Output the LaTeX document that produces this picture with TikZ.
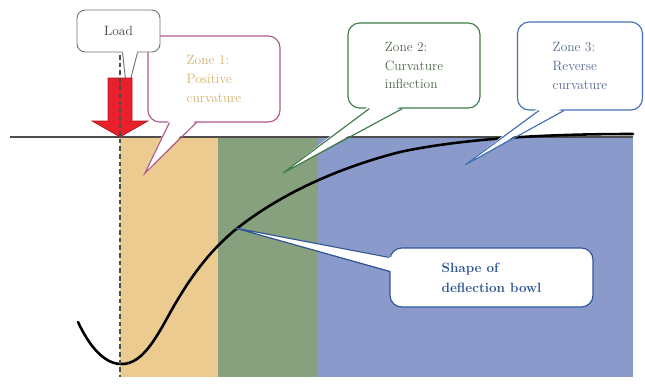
\documentclass[tikz,border=0pt]{standalone}
\usetikzlibrary{calc}
\definecolor{Sand}{HTML}{EBCB8F}
\definecolor{Sage}{HTML}{87A07E}
\definecolor{Periwinkle}{HTML}{8A9BCB}
\definecolor{Plum}{HTML}{B05A8E}
\definecolor{Forest}{HTML}{3F7D4A}
\definecolor{Cobalt}{HTML}{4472B4}
\definecolor{Deep}{HTML}{2F5597}
\definecolor{SandInk}{HTML}{D4B06A}
\definecolor{ForestInk}{HTML}{4E6548}
\definecolor{CobaltInk}{HTML}{56678F}
\definecolor{Signal}{HTML}{E8202A}
\tikzset{
  bubble/.style={draw=#1, fill=white, line width=1pt, rounded corners=10pt,
    align=left, inner sep=0pt, font=\fontsize{11.5}{16}\selectfont},
  tail/.style={draw=#1, line width=1pt, line join=miter},
}

\begin{document}
\begin{tikzpicture}[x=0.03cm,y=-0.03cm]
  \useasboundingbox (0,0) rectangle (645,384);
  % zones under the surface
  \fill[Sand] (120,137) rectangle (218,377);
  \fill[Sage] (218,137) rectangle (318,377);
  \fill[Periwinkle] (318,137) rectangle (633,377);
  \draw[line width=1.6pt, black!70] (10,137) -- (633,137);
  % deflection bowl
  \draw[line width=2.2pt, line cap=round] (78,322)
    .. controls (92,352) and (108,365) .. (123,364)
    .. controls (140,363) and (152,345) .. (165,322)
    .. controls (185,285) and (205,255) .. (235,230)
    .. controls (275,198) and (330,170) .. (400,152)
    .. controls (470,137) and (560,134) .. (633,134);

  % zone callouts
  \node[bubble=Plum, text=SandInk, minimum width=3.96cm, minimum height=2.58cm]
    (z1) at (214,79) {Zone 1:\\Positive\\curvature};
  \coordinate (z1tip) at (145,173);
  \fill[white] ($(z1.south west)+(22,-3)$) -- (z1tip) -- ($(z1.south west)+(49,-3)$) -- cycle;
  \draw[tail=Plum] ($(z1.south west)+(22,0)$) -- (z1tip) -- ($(z1.south west)+(49,0)$);

  \node[bubble=Forest, text=ForestInk, minimum width=3.96cm, minimum height=2.55cm]
    (z2) at (414,65.5) {Zone 2:\\Curvature\\inflection};
  \coordinate (z2tip) at (283,173);
  \fill[white] ($(z2.south west)+(22,-3)$) -- (z2tip) -- ($(z2.south west)+(55,-3)$) -- cycle;
  \draw[tail=Forest] ($(z2.south west)+(22,0)$) -- (z2tip) -- ($(z2.south west)+(55,0)$);

  \node[bubble=Cobalt, text=CobaltInk, minimum width=3.75cm, minimum height=2.64cm]
    (z3) at (580,66) {Zone 3:\\Reverse\\curvature};
  \coordinate (z3tip) at (465,165);
  \fill[white] ($(z3.south west)+(22,-3)$) -- (z3tip) -- ($(z3.south west)+(47,-3)$) -- cycle;
  \draw[tail=Cobalt] ($(z3.south west)+(22,0)$) -- (z3tip) -- ($(z3.south west)+(47,0)$);

  \node[bubble=Deep, text=Deep, font=\fontsize{11.5}{17}\selectfont\bfseries,
    minimum width=6.09cm, minimum height=1.77cm] (bowl) at (491.5,277.5)
    {Shape of\\deflection bowl};
  \coordinate (bowltip) at (235,228);
  \fill[white] ($(bowl.north west)+(3,10)$) -- (bowltip) -- ($(bowl.north west)+(3,24)$) -- cycle;
  \draw[tail=Deep] ($(bowl.north west)+(0,10)$) -- (bowltip) -- ($(bowl.north west)+(0,24)$);

  % load
  \node[bubble=black!55, text=black!75, line width=0.8pt, rounded corners=7pt,
    minimum width=2.49cm, minimum height=1.26cm] (load) at (118.5,31) {Load};
  \coordinate (loadtip) at (127,93);
  \fill[white] ($(load.south west)+(46,-3)$) -- (loadtip) -- ($(load.south west)+(61,-3)$) -- cycle;
  \draw[tail=black!55, line width=0.8pt] ($(load.south west)+(46,0)$) -- (loadtip)
    -- ($(load.south west)+(61,0)$);
  \fill[Signal, draw=Signal!75!black, line width=0.5pt] (108,78) -- (132,78) -- (132,121)
    -- (148,121) -- (120,137) -- (92,121) -- (108,121) -- cycle;
  \draw[black!70, line width=1.3pt, dash pattern=on 4pt off 2.5pt] (120,55) -- (120,377);
\end{tikzpicture}
\end{document}
